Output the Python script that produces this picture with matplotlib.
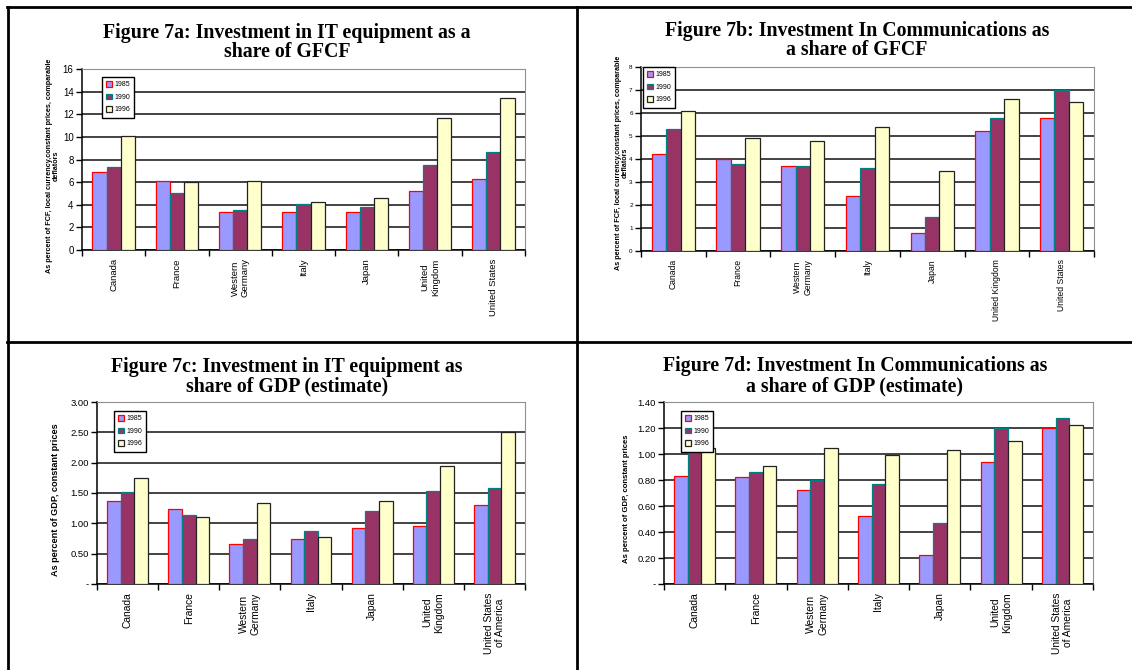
import numpy as np
import matplotlib
matplotlib.use('Agg')
import matplotlib.pyplot as plt
from matplotlib.lines import Line2D

plt.rcParams['font.family'] = 'Liberation Sans'

years = ['1985', '1990', '1996']

labels_a = ['Canada', 'France', 'Western\nGermany', 'Italy', 'Japan', 'United\nKingdom', 'United States']
labels_b = ['Canada', 'France', 'Western\nGermany', 'Italy', 'Japan', 'United Kingdom', 'United States']
labels_cd = ['Canada', 'France', 'Western\nGermany', 'Italy', 'Japan', 'United\nKingdom', 'United States\nof America']

# 7a: IT equipment, % of GFCF
it_gfcf_1985 = [6.9, 6.1, 3.4, 3.4, 3.4, 5.2, 6.3]
it_gfcf_1990 = [7.3, 5.0, 3.5, 4.1, 3.8, 7.5, 8.7]
it_gfcf_1996 = [10.1, 6.0, 6.1, 4.2, 4.6, 11.7, 13.4]

# 7b: communications, % of GFCF
com_gfcf_1985 = [4.2, 4.0, 3.7, 2.4, 0.8, 5.2, 5.8]
com_gfcf_1990 = [5.3, 3.8, 3.7, 3.6, 1.5, 5.8, 7.0]
com_gfcf_1996 = [6.1, 4.9, 4.8, 5.4, 3.5, 6.6, 6.5]

# 7c: IT equipment, % of GDP
it_gdp_1985 = [1.37, 1.24, 0.66, 0.74, 0.93, 0.95, 1.31]
it_gdp_1990 = [1.52, 1.13, 0.75, 0.88, 1.21, 1.54, 1.59]
it_gdp_1996 = [1.74, 1.11, 1.33, 0.77, 1.36, 1.95, 2.51]

# 7d: communications, % of GDP
com_gdp_1985 = [0.83, 0.82, 0.72, 0.52, 0.22, 0.94, 1.20]
com_gdp_1990 = [1.08, 0.86, 0.80, 0.77, 0.47, 1.20, 1.28]
com_gdp_1996 = [1.05, 0.91, 1.05, 0.99, 1.03, 1.10, 1.22]

faces = ['#9999FF', '#993366', '#FFFFCC']
edges = ['#FF0000', '#008080', '#222222']

W, H = 1132, 670
fig = plt.figure(figsize=(W / 100, H / 100), dpi=100)


def px_axes(l, t, r, b):
    return fig.add_axes([l / W, 1 - b / H, (r - l) / W, (b - t) / H])


def fmt_int(v):
    return '%d' % v


def fmt_dec(v):
    return '-' if v == 0 else '%.2f' % v


def panel(ax, series, labels, ymax, ystep, yfmt, ysize, xsize, leg_xy):
    x = np.arange(len(labels))
    w = 0.223
    for i, vals in enumerate(series):
        ax.bar(x + (i - 1) * w, vals, w, color=faces[i], edgecolor=edges[i],
               linewidth=0.9, label=years[i], zorder=3)
    ax.set_xlim(-0.5, len(labels) - 0.5)
    ax.set_ylim(0, ymax)
    yt = np.arange(0, ymax + ystep / 2, ystep)
    ax.set_yticks(yt)
    ax.set_yticklabels([yfmt(v) for v in yt], fontsize=ysize)
    ax.tick_params(axis='y', length=4, width=1, pad=2)
    ax.set_xticks(x)
    ax.set_xticklabels(labels, rotation=90, fontsize=xsize, va='top', ha='center',
                       multialignment='center')
    ax.tick_params(axis='x', which='major', length=0, pad=6)
    ax.set_xticks(np.arange(-0.5, len(labels), 1), minor=True)
    ax.tick_params(axis='x', which='minor', length=4, width=1, direction='out')
    ax.yaxis.grid(True, color='#111111', linewidth=1.1)
    ax.set_axisbelow(True)
    for s in ['top', 'right']:
        ax.spines[s].set_color('#909090')
    for s in ['left', 'bottom']:
        ax.spines[s].set_linewidth(1.1)
    leg = ax.legend(loc='upper left', bbox_to_anchor=(leg_xy[0] / W, 1 - leg_xy[1] / H),
                    bbox_transform=fig.transFigure, fontsize=5, fancybox=False,
                    edgecolor='black', framealpha=1, handlelength=0.9, handleheight=0.9,
                    handletextpad=0.3, borderpad=0.6, labelspacing=0.75, borderaxespad=0)
    leg.get_frame().set_linewidth(1.0)


def title(cx, y1, y2, l1, l2):
    for y, s in ((y1, l1), (y2, l2)):
        fig.text(cx / W, 1 - y / H, s, ha='center', va='center', fontsize=14.3,
                 fontweight='bold', family='Liberation Serif')


def ylab(x, y, s, size):
    fig.text(x / W, 1 - y / H, s, rotation=90, ha='center', va='center', fontsize=size,
             fontweight='bold', multialignment='center', linespacing=1.0)


ax_a = px_axes(82, 69, 525, 250)
panel(ax_a, [it_gfcf_1985, it_gfcf_1990, it_gfcf_1996], labels_a, 16, 2, fmt_int, 7, 6.8, (102, 77))
title(287, 33, 52, 'Figure 7a: Investment in IT equipment as a', 'share of GFCF')
ylab(53, 166, 'As percent of FCF, local currency,constant prices, comparable\ndeflators', 5.2)

ax_b = px_axes(641, 67, 1094, 251)
panel(ax_b, [com_gfcf_1985, com_gfcf_1990, com_gfcf_1996], labels_b, 8, 1, fmt_int, 4.5, 6.2, (643, 67))
title(857, 31, 50, 'Figure 7b: Investment In Communications as', 'a share of GFCF')
ylab(622, 163, 'As percent of FCF, local currency,constant prices, comparable\ndeflators', 5.2)

ax_c = px_axes(97, 402, 525, 584)
panel(ax_c, [it_gdp_1985, it_gdp_1990, it_gdp_1996], labels_cd, 3.0, 0.5, fmt_dec, 6.8, 7.4, (114, 411))
title(287, 367, 386, 'Figure 7c: Investment in IT equipment as', 'share of GDP (estimate)')
ylab(56, 500, 'As percent of GDP, constant prices', 6.6)

ax_d = px_axes(664, 402, 1093, 584)
panel(ax_d, [com_gdp_1985, com_gdp_1990, com_gdp_1996], labels_cd, 1.4, 0.2, fmt_dec, 6.8, 7.4, (681, 411))
title(855, 366, 386, 'Figure 7d: Investment In Communications as', 'a share of GDP (estimate)')
ylab(626, 499, 'As percent of GDP, constant prices', 5.6)

# table rules around the four panels
for xs, ys in (([7, 1131], [7, 7]), ([8, 8], [7, 670]), ([577, 577], [7, 670]), ([7, 1131], [342, 342])):
    fig.add_artist(Line2D([v / W for v in xs], [1 - v / H for v in ys], color='black', linewidth=2))

fig.savefig('out.png', dpi=100)
